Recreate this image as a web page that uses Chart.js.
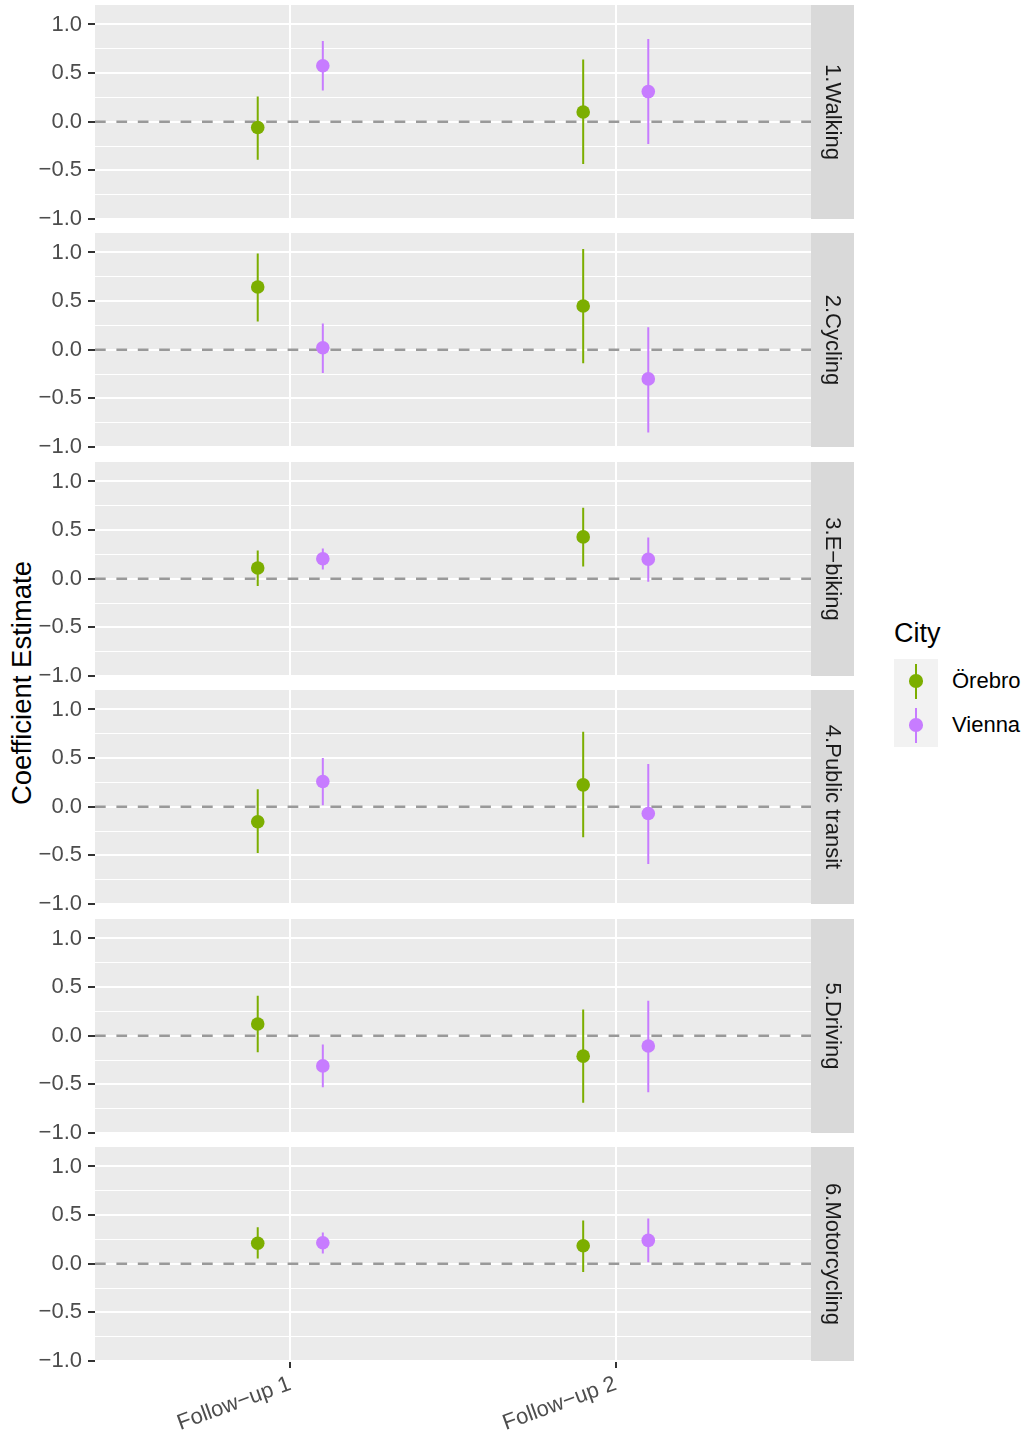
<!DOCTYPE html>
<html>
<head>
<meta charset="utf-8">
<title>Coefficient Estimate by City</title>
<script src="https://cdn.jsdelivr.net/npm/chart.js@4.4.1/dist/chart.umd.min.js"></script>
<style>
  body {
    margin: 0;
    width: 1026px;
    height: 1435px;
    position: relative;
    overflow: hidden;
    background: #ffffff;
    font-family: "Liberation Sans", Arial, sans-serif;
  }
  canvas { position: absolute; left: 0; }
  #ytitle {
    position: absolute;
    left: 22px;
    top: 683px;
    transform: translate(-50%, -50%) rotate(-90deg);
    font-size: 27.5px;
    white-space: nowrap;
    color: #000000;
  }
  #legend-title {
    position: absolute;
    left: 894px;
    top: 620px;
    font-size: 27px;
    line-height: 27px;
    color: #000000;
  }
  #legend-keys {
    position: absolute;
    left: 894px;
    top: 659px;
    width: 44px;
    height: 88px;
    background: #F2F2F2;
  }
  .key { position: absolute; left: 0; width: 44px; height: 44px; }
  .key .bar { position: absolute; left: 21px; top: 5px; width: 2px; height: 35px; }
  .key .dot { position: absolute; left: 15.2px; top: 15.2px; width: 13.6px; height: 13.6px; border-radius: 50%; }
  .key-label {
    position: absolute;
    left: 952px;
    font-size: 22px;
    line-height: 26px;
    color: #000000;
    white-space: nowrap;
  }
</style>
</head>
<body>
<div id="ytitle">Coefficient Estimate</div>
<div id="legend-title">City</div>
<div id="legend-keys"></div>

<script>
// facets (travel modes), x categories and colour groups
const facets = ['1.Walking', '2.Cycling', '3.E−biking', '4.Public transit', '5.Driving', '6.Motorcycling'];
const followUps = ['Follow−up 1', 'Follow−up 2'];
const cities = ['Örebro', 'Vienna'];
const cityColors = ['#7CAE00', '#C77CFF'];

// one row per facet: [Follow-up 1, Follow-up 2]
const orebroEst  = [[-0.06, 0.10], [0.645, 0.45], [0.11, 0.43], [-0.155, 0.225], [0.12, -0.21], [0.21, 0.185]];
const orebroLow  = [[-0.39, -0.435], [0.29, -0.14], [-0.075, 0.125], [-0.475, -0.315], [-0.17, -0.69], [0.055, -0.085]];
const orebroHigh = [[0.26, 0.64], [0.99, 1.035], [0.29, 0.73], [0.18, 0.77], [0.41, 0.27], [0.375, 0.445]];

const viennaEst  = [[0.575, 0.31], [0.02, -0.30], [0.205, 0.20], [0.26, -0.07], [-0.31, -0.105], [0.215, 0.24]];
const viennaLow  = [[0.32, -0.23], [-0.24, -0.85], [0.095, -0.03], [0.015, -0.59], [-0.53, -0.58], [0.105, 0.015]];
const viennaHigh = [[0.83, 0.85], [0.27, 0.23], [0.31, 0.425], [0.50, 0.44], [-0.09, 0.36], [0.32, 0.465]];

const yTicks = [-1, -0.75, -0.5, -0.25, 0, 0.25, 0.5, 0.75, 1];

const estimates = [orebroEst, viennaEst];
const lower = [orebroLow, viennaLow];
const upper = [orebroHigh, viennaHigh];

// layout
const xMin = 0.4, xMax = 2.6;
const yMin = -1, yMax = 1.2;
const dodge = [-0.1, 0.1];
const panelTop0 = 5, panelStep = 228.4, panelH = 214;
const canvasW = 860, axisW = 95, stripGap = 49, stripW = 43;
const FONT = '"Liberation Sans", Arial, sans-serif';

Chart.defaults.font.family = FONT;

const isMajor = v => Math.abs(v * 2 - Math.round(v * 2)) < 1e-9;
const fmt = v => (v < 0 ? '\u2212' : '') + Math.abs(v).toFixed(1);

const panelBg = {
  id: 'panelBg',
  beforeDraw(chart) {
    const { ctx, chartArea: a } = chart;
    ctx.save();
    ctx.fillStyle = '#EBEBEB';
    ctx.fillRect(a.left, a.top, a.right - a.left, a.bottom - a.top);
    ctx.restore();
  }
};

const strip = {
  id: 'strip',
  afterDraw(chart, args, opts) {
    const { ctx, chartArea: a } = chart;
    ctx.save();
    ctx.fillStyle = '#D9D9D9';
    ctx.fillRect(a.right, a.top, stripW, a.bottom - a.top);
    ctx.translate(a.right + stripW / 2, (a.top + a.bottom) / 2);
    ctx.rotate(Math.PI / 2);
    ctx.fillStyle = '#1A1A1A';
    ctx.font = '22px ' + FONT;
    ctx.textAlign = 'center';
    ctx.textBaseline = 'middle';
    ctx.fillText(opts.label, 0, 0);
    ctx.restore();
  }
};

function makeChart(i) {
  const last = i === facets.length - 1;
  const top = Math.round(panelTop0 + i * panelStep);
  const padTop = 24;
  const padBottom = last ? 0 : 24;
  const xAxisH = last ? 74 : 0;

  const canvas = document.createElement('canvas');
  canvas.width = canvasW;
  canvas.height = padTop + panelH + xAxisH + padBottom;
  canvas.style.top = (top - padTop) + 'px';
  document.body.appendChild(canvas);

  const datasets = [];
  cities.forEach((city, c) => {
    const est = estimates[c][i], lo = lower[c][i], hi = upper[c][i];
    const xs = followUps.map((f, k) => k + 1 + dodge[c]);
    const ranges = [];
    xs.forEach((x, k) => ranges.push({ x: x, y: lo[k] }, { x: x, y: hi[k] }, { x: x, y: null }));
    datasets.push({
      label: city,
      data: xs.map((x, k) => ({ x: x, y: est[k] })),
      pointRadius: 6.8,
      pointBackgroundColor: cityColors[c],
      pointBorderWidth: 0,
      order: 0
    });
    datasets.push({
      label: city + ' CI',
      data: ranges,
      showLine: true,
      spanGaps: false,
      borderColor: cityColors[c],
      borderWidth: 2,
      pointRadius: 0,
      order: 1
    });
  });
  // reference line at zero
  datasets.push({
    label: 'zero',
    data: [{ x: xMin, y: 0 }, { x: xMax, y: 0 }],
    showLine: true,
    borderColor: '#999999',
    borderWidth: 2.5,
    borderDash: [10.7, 10.7],
    pointRadius: 0,
    order: 2
  });

  return new Chart(canvas.getContext('2d'), {
    type: 'scatter',
    data: { datasets: datasets },
    plugins: [panelBg, strip],
    options: {
      responsive: false,
      animation: false,
      devicePixelRatio: 1,
      events: [],
      layout: { padding: { left: 0, right: stripGap, top: padTop, bottom: padBottom } },
      plugins: {
        legend: { display: false },
        tooltip: { enabled: false },
        strip: { label: facets[i] }
      },
      scales: {
        x: {
          type: 'linear',
          min: xMin,
          max: xMax,
          afterBuildTicks: s => { s.ticks = followUps.map((f, k) => ({ value: k + 1 })); },
          afterFit: s => { s.height = xAxisH; },
          border: { display: false },
          grid: {
            color: '#FFFFFF',
            lineWidth: 2,
            drawTicks: last,
            tickLength: 7,
            tickColor: '#333333',
            tickWidth: 2
          },
          ticks: {
            display: last,
            autoSkip: false,
            minRotation: 20,
            maxRotation: 20,
            padding: 3,
            color: '#4D4D4D',
            font: { size: 22, lineHeight: 1.2 },
            callback: v => followUps[Math.round(v) - 1]
          }
        },
        y: {
          min: yMin,
          max: yMax,
          afterBuildTicks: s => { s.ticks = yTicks.map(v => ({ value: v })); },
          afterFit: s => { s.width = axisW; },
          border: { display: false },
          grid: {
            color: '#FFFFFF',
            lineWidth: ctx => (ctx.tick && isMajor(ctx.tick.value) ? 2 : 1),
            tickLength: 7,
            tickColor: ctx => (ctx.tick && isMajor(ctx.tick.value) ? '#333333' : 'rgba(0,0,0,0)'),
            tickWidth: 2
          },
          ticks: {
            autoSkip: false,
            padding: 6,
            color: '#4D4D4D',
            font: { size: 22, lineHeight: 1.2 },
            callback: v => (isMajor(v) ? fmt(v) : '')
          }
        }
      }
    }
  });
}

facets.forEach((f, i) => makeChart(i));

// legend keys
const keyBox = document.getElementById('legend-keys');
cities.forEach((city, c) => {
  const key = document.createElement('div');
  key.className = 'key';
  key.style.top = (c * 44) + 'px';
  key.innerHTML = '<div class="bar" style="background:' + cityColors[c] + '"></div>' +
                  '<div class="dot" style="background:' + cityColors[c] + '"></div>';
  keyBox.appendChild(key);

  const label = document.createElement('div');
  label.className = 'key-label';
  label.style.top = (659 + 22 + c * 44 - 13) + 'px';
  label.textContent = city;
  document.body.appendChild(label);
});
</script>
</body>
</html>
